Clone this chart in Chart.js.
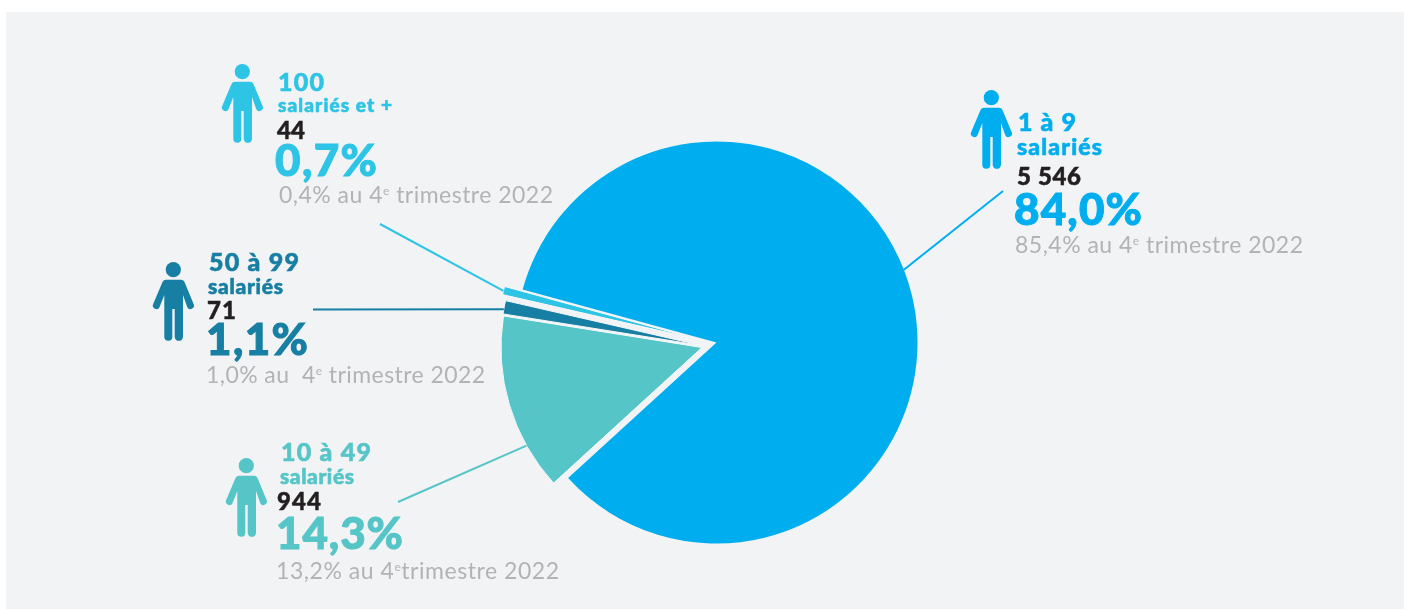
<!DOCTYPE html>
<html lang="fr">
<head>
<meta charset="utf-8">
<title>Répartition des établissements par taille</title>
<script src="https://cdn.jsdelivr.net/npm/chart.js@4"></script>
<style>
  html, body { margin: 0; padding: 0; background: #fff; }
  #page { position: relative; width: 1408px; height: 610px; overflow: hidden; }
  #panel { position: absolute; left: 6px; top: 12px; width: 1398px; height: 597px; background: #f1f3f5; }
  #pie { position: absolute; left: 0; top: 0; }
  #labels { position: absolute; left: 0; top: 0; }
  #labels text { font-family: Lato, "Open Sans", sans-serif; }
</style>
</head>
<body>
<div id="page">
  <div id="panel"></div>
  <canvas id="pie" width="1408" height="610"></canvas>
  <svg id="labels" width="1408" height="610" xmlns="http://www.w3.org/2000/svg">
    <defs>
      <g id="person">
        <circle cx="20.3" cy="7.7" r="7.6"/>
        <path d="M13 17.7H28Q30.5 17.7 31.5 20L40.6 42A3.5 3.5 0 0 1 34.2 45L30 33V74.7A4 4 0 0 1 21.7 74.7V47H19.3V74.7A4 4 0 0 1 11.3 74.7V33L6.6 45A3.5 3.5 0 0 1 .2 42L9.5 20Q10.5 17.7 13 17.7Z"/>
      </g>
    </defs>
  </svg>
</div>
<script>
// Établissements par tranche d'effectif, dans le sens horaire
const categories = ["1 à 9", "10 à 49", "50 à 99", "100"];
const subLabels = ["salariés", "salariés", "salariés", "salariés et +"];
const counts = [5546, 944, 71, 44];
const countLabels = ["5 546", "944", "71", "44"];
const shares = ["84,0%", "14,3%", "1,1%", "0,7%"];
const previousShares = ["85,4% au ", "13,2% au ", "1,0% au  ", "0,4% au "];
const quarterTail = [" trimestre 2022", "trimestre 2022", " trimestre 2022", " trimestre 2022"];
const colors = ["#00aeef", "#56c5c7", "#177fa3", "#2ec4e6"];

// Décalage de chaque part par rapport au centre du camembert
const sliceShift = [[0, 0], [-14.5, 5], [-15, 3], [-18, -3]];

// Filets : extrémité côté texte, angle d'arrivée sur la part (degrés, 0 = midi)
const leaders = [
  { from: [1003, 191], bearing: 68.8 },
  { from: [398, 502], bearing: 240.8 },
  { from: [313, 309.6], bearing: 280.4 },
  { from: [380, 224], bearing: 284 }
];

// Position du bloc de texte de chaque tranche : x, ligne de base, largeur, corps éventuel
const blocks = [
  { icon: [971, 90], lines: [[1018, 131, 58], [1017, 155, 85, 23], [1017, 185, 64], [1014, 225, 128], [1015, 253, 288]] },
  { icon: [226, 458], lines: [[281, 461, 90], [280, 484, 74], [277, 510, 44], [276, 549, 127], [276, 579, 283]] },
  { icon: [153, 262], lines: [[209, 271, 90], [208, 294, 75], [207, 319, 29], [206, 355, 102], [206, 383, 279]] },
  { icon: [222, 64], lines: [[278, 91, 46], [278, 112, 114, 19], [277, 139, 28], [275, 176, 102], [279, 203, 274]] }
];
// Corps, graisse et épaississement de chaque ligne d'un bloc
const lineFonts = [[25, 900, 0.6], [21, 900, 0.6], [24, 900, 0.5], [44, 900, 1], [23, 400, 0]];

const svgNS = "http://www.w3.org/2000/svg";
const svg = document.getElementById("labels");

function addText(spec, font, fill, str, tail) {
  const t = document.createElementNS(svgNS, "text");
  t.setAttribute("x", spec[0]);
  t.setAttribute("y", spec[1]);
  t.setAttribute("font-size", spec[3] || font[0]);
  t.setAttribute("font-weight", font[1]);
  t.setAttribute("fill", fill);
  if (font[2]) {
    t.setAttribute("stroke", fill);
    t.setAttribute("stroke-width", font[2]);
  }
  t.setAttribute("textLength", spec[2]);
  t.setAttribute("lengthAdjust", "spacing");
  t.style.whiteSpace = "pre";
  t.appendChild(document.createTextNode(str));
  if (tail) {
    // le e de "4e" passe en exposant
    const e = document.createElementNS(svgNS, "tspan");
    e.setAttribute("font-size", 12);
    e.setAttribute("dy", -8);
    e.textContent = "e";
    t.appendChild(e);
    const rest = document.createElementNS(svgNS, "tspan");
    rest.setAttribute("dy", 8);
    rest.textContent = tail;
    t.appendChild(rest);
  }
  svg.appendChild(t);
}

blocks.forEach((b, i) => {
  const use = document.createElementNS(svgNS, "use");
  use.setAttribute("href", "#person");
  use.setAttribute("x", b.icon[0]);
  use.setAttribute("y", b.icon[1]);
  use.setAttribute("fill", colors[i]);
  svg.appendChild(use);

  addText(b.lines[0], lineFonts[0], colors[i], categories[i]);
  addText(b.lines[1], lineFonts[1], colors[i], subLabels[i]);
  addText(b.lines[2], lineFonts[2], "#231f20", countLabels[i]);
  addText(b.lines[3], lineFonts[3], colors[i], shares[i]);
  addText(b.lines[4], lineFonts[4], "#b1b3b5", previousShares[i] + "4", quarterTail[i]);
});

// Éloigne les petites parts du centre, chacune avec son propre décalage
const shiftSlices = {
  id: "shiftSlices",
  afterDatasetsUpdate(chart) {
    chart.getDatasetMeta(0).data.forEach((arc, i) => {
      arc.x += sliceShift[i][0];
      arc.y += sliceShift[i][1];
    });
  }
};

// Filets reliant chaque part à son bloc de texte
const leaderLines = {
  id: "leaderLines",
  afterDatasetsDraw(chart) {
    const ctx = chart.ctx;
    chart.getDatasetMeta(0).data.forEach((arc, i) => {
      const a = leaders[i].bearing * Math.PI / 180;
      ctx.save();
      ctx.strokeStyle = colors[i];
      ctx.lineWidth = 2;
      ctx.beginPath();
      ctx.moveTo(leaders[i].from[0], leaders[i].from[1]);
      ctx.lineTo(arc.x + Math.sin(a) * arc.outerRadius, arc.y - Math.cos(a) * arc.outerRadius);
      ctx.stroke();
      ctx.restore();
    });
  }
};

new Chart(document.getElementById("pie"), {
  type: "pie",
  data: {
    labels: categories,
    datasets: [{
      data: counts,
      backgroundColor: colors,
      borderColor: "#f7f8f9",
      borderWidth: [0, 1, 1, 1]
    }]
  },
  options: {
    responsive: false,
    animation: false,
    rotation: 285.3,
    layout: { padding: { left: 515, right: 490, top: 141, bottom: 66 } },
    plugins: { legend: { display: false }, tooltip: { enabled: false } }
  },
  plugins: [shiftSlices, leaderLines]
});
</script>
</body>
</html>
